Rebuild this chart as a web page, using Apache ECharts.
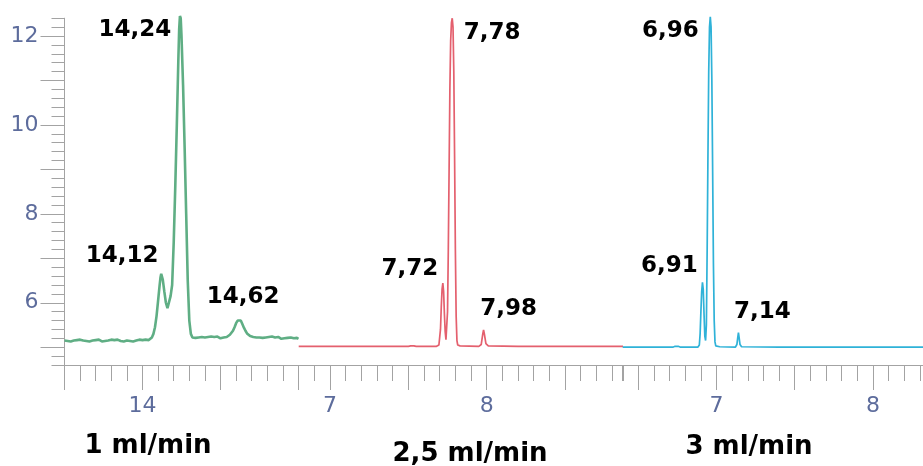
<!DOCTYPE html>
<html>
<head>
<meta charset="utf-8">
<script src="https://cdn.jsdelivr.net/npm/echarts@6/dist/echarts.min.js"></script>
<style>
html, body { margin: 0; padding: 0; background: #fff; }
#chart { width: 923px; height: 466px; }
</style>
</head>
<body>
<div id="chart"></div>
<script>
// Chromatograms at three flow rates: [retention time (min), signal]
const trace1 = [
  [13.50,5.15],[13.51,5.18],[13.52,5.14],[13.53,5.17],[13.54,5.13],[13.55,5.16],[13.56,5.15],[13.57,5.12],
  [13.58,5.16],[13.59,5.14],[13.60,5.17],[13.61,5.13],[13.62,5.15],[13.63,5.18],[13.64,5.14],[13.65,5.16],
  [13.66,5.13],[13.67,5.17],[13.68,5.15],[13.69,5.12],[13.70,5.16],[13.71,5.14],[13.72,5.17],[13.73,5.15],
  [13.74,5.13],[13.75,5.16],[13.76,5.14],[13.77,5.17],[13.78,5.15],[13.79,5.13],[13.80,5.17],[13.81,5.14],
  [13.82,5.16],[13.83,5.13],[13.84,5.17],[13.85,5.15],[13.86,5.14],[13.87,5.17],[13.88,5.13],[13.89,5.16],
  [13.90,5.15],[13.91,5.17],[13.92,5.14],[13.93,5.16],[13.94,5.13],[13.95,5.17],[13.96,5.15],[13.97,5.14],
  [13.98,5.17],[13.99,5.15],[14.00,5.16],[14.01,5.14],[14.02,5.17],[14.03,5.15],[14.04,5.16],[14.05,5.18],
  [14.06,5.22],[14.07,5.30],[14.08,5.45],[14.09,5.70],[14.10,6.05],[14.11,6.40],[14.115,6.56],[14.12,6.65],
  [14.125,6.62],[14.13,6.52],[14.14,6.25],[14.15,6.00],[14.16,5.88],[14.165,5.86],[14.17,5.92],[14.18,6.15],
  [14.19,6.40],[14.20,7.35],[14.21,8.60],[14.22,10.00],[14.23,11.50],[14.235,12.15],[14.24,12.45],[14.245,12.40],
  [14.25,12.00],[14.26,10.90],[14.27,9.50],[14.28,8.00],[14.29,6.50],[14.30,5.60],[14.31,5.30],[14.32,5.22],
  [14.33,5.19],[14.34,5.21],[14.35,5.18],[14.36,5.22],[14.37,5.20],[14.38,5.23],[14.39,5.19],[14.40,5.22],
  [14.41,5.20],[14.42,5.23],[14.43,5.21],[14.44,5.24],[14.45,5.20],[14.46,5.23],[14.47,5.21],[14.48,5.24],
  [14.49,5.22],[14.50,5.20],[14.51,5.24],[14.52,5.22],[14.53,5.25],[14.54,5.23],[14.55,5.26],[14.56,5.28],
  [14.57,5.31],[14.58,5.37],[14.59,5.45],[14.60,5.54],[14.61,5.60],[14.62,5.63],[14.63,5.60],[14.64,5.52],
  [14.65,5.44],[14.66,5.37],[14.67,5.31],[14.68,5.28],[14.69,5.25],[14.70,5.27],[14.71,5.23],[14.72,5.25],
  [14.73,5.22],[14.74,5.26],[14.75,5.22],[14.76,5.24],[14.77,5.21],[14.78,5.24],[14.79,5.22],[14.80,5.20],
  [14.81,5.23],[14.82,5.21],[14.83,5.24],[14.84,5.20],[14.85,5.22],[14.86,5.19],[14.87,5.23],[14.88,5.21],
  [14.89,5.19],[14.90,5.22],[14.91,5.20],[14.92,5.18],[14.93,5.21],[14.94,5.19],[14.95,5.22],[14.96,5.18],
  [14.97,5.20],[14.98,5.19],[14.99,5.21],[15.00,5.19]
];

const trace2 = [
  [6.80,5.02],[7.00,5.02],[7.20,5.02],[7.40,5.02],[7.50,5.02],[7.515,5.03],[7.525,5.07],[7.535,5.03],
  [7.55,5.02],[7.68,5.02],[7.695,5.05],[7.705,5.40],[7.71,5.90],[7.715,6.30],[7.72,6.44],[7.725,6.25],
  [7.73,5.75],[7.735,5.35],[7.74,5.17],[7.745,5.20],[7.75,5.80],[7.755,7.20],[7.76,9.00],[7.765,10.80],
  [7.77,11.90],[7.775,12.30],[7.78,12.40],[7.785,12.20],[7.79,11.20],[7.795,9.30],[7.80,7.20],[7.805,5.70],
  [7.81,5.15],[7.815,5.05],[7.83,5.03],[7.95,5.02],[7.965,5.06],[7.975,5.30],[7.98,5.39],[7.985,5.30],
  [7.995,5.08],[8.01,5.03],[8.20,5.02],[8.50,5.02],[8.87,5.02]
];

const trace3 = [
  [6.40,5.00],[6.60,5.00],[6.72,5.00],[6.735,5.02],[6.745,5.05],[6.755,5.02],[6.77,5.00],[6.88,5.00],
  [6.89,5.05],[6.895,5.30],[6.90,5.80],[6.905,6.25],[6.91,6.46],[6.915,6.30],[6.92,5.75],[6.925,5.25],
  [6.93,5.15],[6.935,5.50],[6.94,7.20],[6.945,9.30],[6.95,11.20],[6.955,12.20],[6.96,12.43],[6.965,12.20],
  [6.97,11.00],[6.975,9.00],[6.98,6.90],[6.985,5.60],[6.99,5.12],[6.995,5.03],[7.02,5.01],[7.12,5.00],
  [7.13,5.06],[7.135,5.20],[7.14,5.33],[7.145,5.20],[7.15,5.06],[7.16,5.01],[7.40,5.00],[7.80,5.00],
  [8.32,5.00]
];

// Labelled retention times
const peaks1 = [14.12, 14.24, 14.62];
const peaks2 = [7.72, 7.78, 7.98];
const peaks3 = [6.91, 6.96, 7.14];

// Flow rates
const flowLabels = ['1 ml/min', '2,5 ml/min', '3 ml/min'];

// Axis ticks and labels
const yLabelValues = [6, 8, 10, 12];
const yMajorTicks = [5, 6, 7, 8, 9, 10, 11, 12];
const xMajorTicks1 = [13.5, 14, 14.5, 15];
const xMajorTicks2 = [7, 7.5, 8, 8.5];
const xMajorTicks3 = [6.5, 7, 7.5, 8];
const xLabelValues1 = [14];
const xLabelValues2 = [7, 8];
const xLabelValues3 = [7, 8];

// ---- styling / layout ----
const Y_MIN = 4.6, Y_MAX = 12.4;
const axisGray = '#a3a3a3';
const labelBlue = '#5d6c9c';
const colors = ['#5fae84', '#e4606e', '#2fb2d8'];
const panels = [
  { left: 64.5, width: 234, min: 13.5, max: 15.0, data: trace1, peaks: peaks1,
    majors: xMajorTicks1, labels: xLabelValues1, offsets: [[-39, -18], [-45, 14], [4, -22]],
    flowPos: [148, 446], lineWidth: 2.6 },
  { left: 298.7, width: 324.3, min: 6.8, max: 8.87, data: trace2, peaks: peaks2,
    majors: xMajorTicks2, labels: xLabelValues2, offsets: [[-33, -14], [40, 15], [25, -21]],
    flowPos: [470, 454], lineWidth: 1.7 },
  { left: 622.7, width: 300.8, min: 6.4, max: 8.32, data: trace3, peaks: peaks3,
    majors: xMajorTicks3, labels: xLabelValues3, offsets: [[-33, -16], [-40, 14], [24, -21]],
    flowPos: [749, 447], lineWidth: 1.7 }
];

const TOP = 18.2, BOTTOM = 101;

function valueAt(trace, t) {
  const p = trace.find(d => Math.abs(d[0] - t) < 1e-9);
  return p ? p[1] : null;
}

const grid = [], xAxis = [], yAxis = [], series = [], graphic = [];

panels.forEach((p, i) => {
  grid.push({ left: p.left, width: p.width, top: TOP, bottom: BOTTOM, containLabel: false });

  // minor ticks every 0.1 min, with the axis line
  xAxis.push({
    type: 'value', gridIndex: i, position: 'bottom', min: p.min, max: p.max, interval: 0.1,
    axisLine: { show: true, onZero: false, lineStyle: { color: axisGray, width: 1 } },
    axisTick: { show: true, length: 16, lineStyle: { color: axisGray, width: 1 } },
    axisLabel: { show: false }, splitLine: { show: false }
  });
  // half-minute ticks and minute labels
  xAxis.push({
    type: 'value', gridIndex: i, position: 'bottom', min: p.min, max: p.max,
    axisLine: { show: false, onZero: false },
    axisTick: { show: true, length: 25, customValues: p.majors, lineStyle: { color: axisGray, width: 1 } },
    axisLabel: { show: true, customValues: p.labels, margin: 30, fontSize: 22,
      fontFamily: 'DejaVu Sans', color: labelBlue, formatter: v => String(v) },
    splitLine: { show: false }
  });
});

// left value axis (first panel)
yAxis.push({
  type: 'value', gridIndex: 0, position: 'left', min: Y_MIN, max: Y_MAX,
  axisLine: { show: true, lineStyle: { color: axisGray, width: 1 } },
  axisTick: { show: true, length: 24, customValues: yMajorTicks, lineStyle: { color: axisGray, width: 1 } },
  axisLabel: { show: true, customValues: yLabelValues, margin: 26, fontSize: 22,
    fontFamily: 'DejaVu Sans', color: labelBlue, formatter: v => String(v) },
  splitLine: { show: false }
});
yAxis.push({
  type: 'value', gridIndex: 0, position: 'left', min: Y_MIN, max: Y_MAX, interval: 0.2,
  axisLine: { show: false },
  axisTick: { show: true, length: 13, lineStyle: { color: axisGray, width: 1 } },
  axisLabel: { show: false }, splitLine: { show: false }
});
yAxis.push({ type: 'value', gridIndex: 1, min: Y_MIN, max: Y_MAX, show: false });
yAxis.push({ type: 'value', gridIndex: 2, min: Y_MIN, max: Y_MAX, show: false });

const yIndexFor = [0, 2, 3];

panels.forEach((p, i) => {
  series.push({
    type: 'line', xAxisIndex: i * 2, yAxisIndex: yIndexFor[i],
    data: p.data, showSymbol: false, symbol: 'none', clip: false,
    lineStyle: { color: colors[i], width: p.lineWidth },
    z: 3
  });
  series.push({
    type: 'scatter', xAxisIndex: i * 2, yAxisIndex: yIndexFor[i],
    symbolSize: 0, silent: true, clip: false, z: 5,
    itemStyle: { opacity: 1 },
    data: p.peaks.map((t, k) => ({
      value: [t, valueAt(p.data, t)],
      label: { offset: p.offsets[k] }
    })),
    label: {
      show: true, position: 'inside', align: 'center', verticalAlign: 'middle',
      fontFamily: 'DejaVu Sans', fontWeight: 'bold', fontSize: 23, color: '#000',
      textBorderWidth: 0, textBorderColor: 'transparent',
      formatter: d => d.value[0].toFixed(2).replace('.', ',')
    }
  });
  graphic.push({
    type: 'text', x: p.flowPos[0], y: p.flowPos[1], z: 10,
    style: {
      text: flowLabels[i], align: 'center', verticalAlign: 'middle',
      font: 'bold 26px "DejaVu Sans"', fill: '#000'
    }
  });
});

const chart = echarts.init(document.getElementById('chart'), null, { renderer: 'canvas' });
chart.setOption({
  animation: false,
  backgroundColor: '#fff',
  grid, xAxis, yAxis, series, graphic
});
</script>
</body>
</html>
